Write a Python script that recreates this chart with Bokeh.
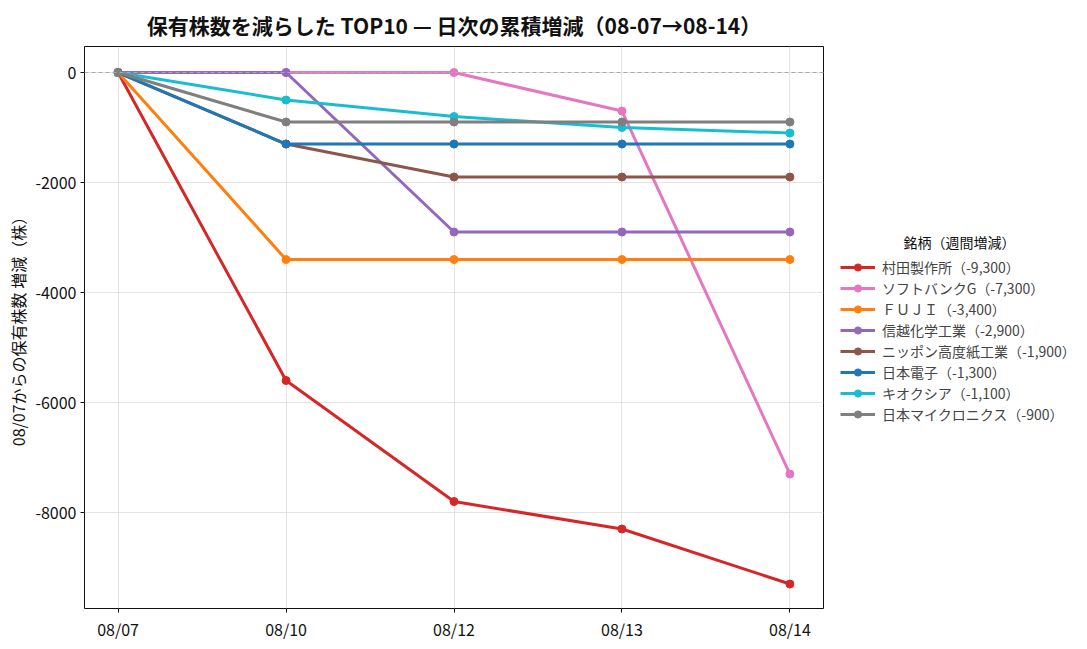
from bokeh.plotting import figure
from bokeh.layouts import row
from bokeh.models import Range1d, FixedTicker, Legend, LegendItem, Span, Label
from bokeh.embed import file_html
from bokeh.resources import INLINE

dates = ["08/07", "08/10", "08/12", "08/13", "08/14"]
y_ticks = [0, -2000, -4000, -6000, -8000]

names = ["村田製作所（-9,300）", "ソフトバンクG（-7,300）", "ＦＵＪＩ（-3,400）",
         "信越化学工業（-2,900）", "ニッポン高度紙工業（-1,900）", "日本電子（-1,300）",
         "キオクシア（-1,100）", "日本マイクロニクス（-900）"]

murata = [0, -5600, -7800, -8300, -9300]
softbank = [0, 0, 0, -700, -7300]
fuji = [0, -3400, -3400, -3400, -3400]
shinetsu = [0, 0, -2900, -2900, -2900]
nippon_kodoshi = [0, -1300, -1900, -1900, -1900]
jeol = [0, -1300, -1300, -1300, -1300]
kioxia = [0, -500, -800, -1000, -1100]
micronics = [0, -900, -900, -900, -900]

series = [murata, softbank, fuji, shinetsu, nippon_kodoshi, jeol, kioxia, micronics]
colors = ["#d62728", "#e377c2", "#ff7f0e", "#9467bd", "#8c564b", "#1f77b4", "#17becf", "#7f7f7f"]

FONT = "Noto Sans CJK JP"

p = figure(frame_width=739, frame_height=562, output_backend="svg", toolbar_location=None,
           min_border_left=76, min_border_top=39, min_border_bottom=32, min_border_right=8,
           title="保有株数を減らした TOP10 — 日次の累積増減（08-07→08-14）")
p.margin = (0, 0, 0, 3)
p.title.text_font = FONT
p.title.text_font_size = "21px"
p.title.text_font_style = "bold"
p.title.align = "center"
p.title.text_color = "#111111"
p.title.text_line_height = 1.0
p.title.standoff = 14

p.x_range = Range1d(-0.2, 4.2)
p.y_range = Range1d(-9745, 473)

x = list(range(len(dates)))
p.xaxis.ticker = FixedTicker(ticks=x)
p.xaxis.major_label_overrides = {i: d for i, d in enumerate(dates)}
p.yaxis.ticker = FixedTicker(ticks=y_ticks)
p.yaxis.major_label_overrides = {t: str(t) for t in y_ticks}
p.yaxis.axis_label = "08/07からの保有株数 増減（株）"
p.yaxis.axis_label_text_font = FONT
p.yaxis.axis_label_text_font_size = "16px"
p.yaxis.axis_label_text_font_style = "normal"
p.yaxis.axis_label_text_color = "#111111"
p.yaxis.axis_label_standoff = 2
for ax in (p.xaxis, p.yaxis):
    ax.major_label_text_font = FONT
    ax.major_label_text_font_size = "16px"
    ax.major_label_text_color = "#111111"
    ax.major_label_standoff = 4
    ax.minor_tick_line_color = None
    ax.axis_line_color = None
    ax.major_tick_line_color = "#111111"
    ax.major_tick_in = 0
    ax.major_tick_out = 4

p.outline_line_color = "#111111"
p.outline_line_alpha = 1
p.grid.grid_line_color = "#dddddd"
p.grid.grid_line_alpha = 0.8

p.add_layout(Span(location=0, dimension="width", line_color="#aaaaaa",
                  line_dash="4 3", line_width=1.2))

for ys, c in zip(series, colors):
    p.line(x, ys, color=c, line_width=3)
    p.scatter(x, ys, color=c, size=8)

# legend lives in its own small figure to the right, frame aligned with the plot
lg = figure(frame_width=245, frame_height=562, output_backend="svg", toolbar_location=None,
            min_border_left=0, min_border_right=0, min_border_top=39, min_border_bottom=32,
            x_range=Range1d(0, 245), y_range=Range1d(0, 562))
lg.axis.visible = False
lg.grid.visible = False
lg.outline_line_color = None

items = []
for name, c in zip(names, colors):
    # off-screen dummy data, only the legend glyph is seen
    r1 = lg.line([-50, -40], [-50, -50], color=c, line_width=3)
    r2 = lg.scatter([-45], [-50], color=c, size=8)
    items.append(LegendItem(label=name, renderers=[r1, r2]))

legend = Legend(items=items, location=(9, 184), label_text_font=FONT,
                label_text_font_size="14px", glyph_width=35, glyph_height=18,
                label_height=18, spacing=1, border_line_color=None,
                background_fill_alpha=0, margin=0, padding=5, label_standoff=7)
lg.add_layout(legend)
lg.add_layout(Label(x=128, y=367, text="銘柄（週間増減）", text_font=FONT,
                    text_font_size="14px", text_align="center", text_baseline="middle",
                    text_color="#111111"))

layout = row(p, lg)
open("out.html", "w").write(file_html(layout, INLINE))
